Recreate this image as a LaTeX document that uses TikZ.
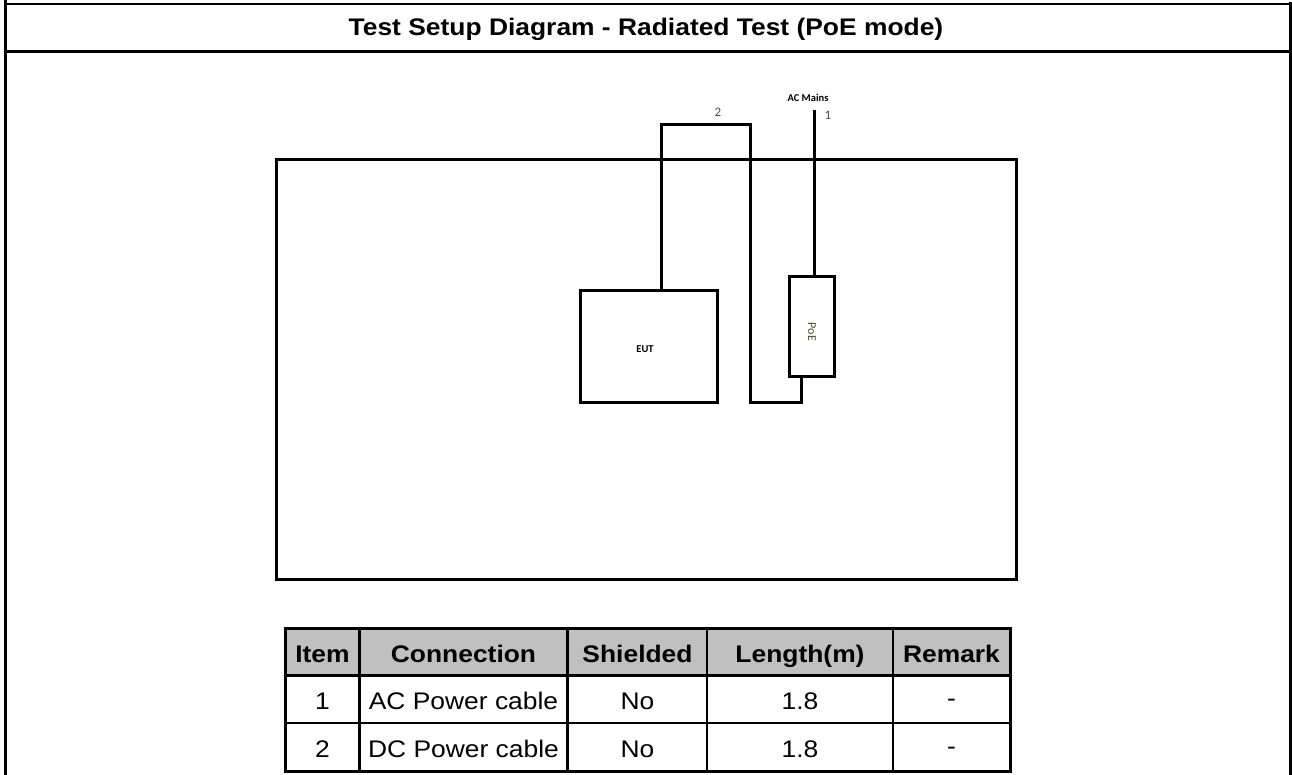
\documentclass[tikz,border=0pt]{standalone}
\usepackage{fontspec}
\setmainfont{Liberation Sans}
\newfontfamily\calfont{Carlito}
\definecolor{hdrgray}{HTML}{C0C0C0}
\definecolor{numblue}{HTML}{2F4F7F}
\definecolor{poecol}{HTML}{4A4A20}
\tikzset{
  cable/.style={line width=3pt, line join=miter},
  devbox/.style={draw, line width=3pt, inner sep=0pt},
  smalllbl/.style={font=\calfont\fontsize{12}{14}\selectfont},
  smallbold/.style={font=\calfont\bfseries\fontsize{10.5}{12}\selectfont},
  numlbl/.style={font=\calfont\fontsize{13}{15}\selectfont, text=numblue},
  cellhdr/.style={font=\bfseries\fontsize{24}{26}\selectfont, anchor=base, xscale=1.1, inner sep=0pt},
  cellbody/.style={font=\fontsize{24}{26}\selectfont, anchor=base, xscale=1.1, inner sep=0pt},
  tline/.style={line width=2.8pt},
}
\begin{document}
\begin{tikzpicture}[x=1pt,y=-1pt]
\useasboundingbox (0,0) rectangle (1292,775);
% outer frame
\draw[line width=3.5pt] (5.5,0) -- (5.5,775);
\draw[line width=2.5pt] (1290.5,2.5) -- (1290.5,775);
\draw[line width=2pt] (5.5,3.8) -- (1291.5,3.8);
\draw[line width=2.5pt] (5.5,51.5) -- (1291.5,51.5);
\node[cellhdr] (title) at (646,35.5) {Test Setup Diagram - Radiated Test (PoE mode)};
% bench
\node[devbox, minimum width=740pt, minimum height=420pt] (bench) at (646.5,369.5) {};
% EUT
\node[devbox, minimum width=137pt, minimum height=112pt] (eut) at (648.5,346.5) {};
\node[smallbold] (eutlbl) at (645,349) {EUT};
% PoE
\node[devbox, minimum width=45pt, minimum height=100pt] (poe) at (811.8,326.7) {};
\node[smalllbl, rotate=-90, text=poecol] (poelbl) at (812,332) {PoE};
% cable 2
\coordinate (c2a) at (661,125);
\coordinate (c2b) at (750,125);
\coordinate (c2c) at (750,402);
\coordinate (c2d) at (801,402);
\draw[cable] (c2a |- eut.north) -- (c2a) -- (c2b) -- (c2c) -- (c2d) -- (c2d |- poe.south);
% cable 1
\coordinate (ac) at (814.5,110);
\draw[cable] (ac) -- (ac |- poe.north);
\node[smallbold] (aclbl) at (808,98) {AC Mains};
\node[numlbl] (n1) at (828,115) {1};
\node[numlbl] (n2) at (718,112) {2};
% table
\fill[hdrgray] (285,628) rectangle (1010,675.5);
\draw[line width=3pt] (285,628) rectangle (1010,771.5);
\foreach \yy in {675.5,723} \draw[tline] (285,\yy) -- (1010,\yy);
\foreach \xx in {359.5,567.5,707,893} \draw[tline] (\xx,628) -- (\xx,771.5);
\node[cellhdr] (h1) at (322.5,662) {Item};
\node[cellhdr] (h2) at (463.5,662) {Connection};
\node[cellhdr] (h3) at (637.5,662) {Shielded};
\node[cellhdr] (h4) at (800,662) {Length(m)};
\node[cellhdr] (h5) at (951.5,662) {Remark};
\node[cellbody] (r1a) at (322.5,709) {1};
\node[cellbody] (r1b) at (463.5,709) {AC Power cable};
\node[cellbody] (r1c) at (637.5,709) {No};
\node[cellbody] (r1d) at (800,709) {1.8};
\node[cellbody] (r1e) at (951.5,706) {-};
\node[cellbody] (r2a) at (322.5,757) {2};
\node[cellbody] (r2b) at (463.5,757) {DC Power cable};
\node[cellbody] (r2c) at (637.5,757) {No};
\node[cellbody] (r2d) at (800,757) {1.8};
\node[cellbody] (r2e) at (951.5,754) {-};
\end{tikzpicture}
\end{document}
